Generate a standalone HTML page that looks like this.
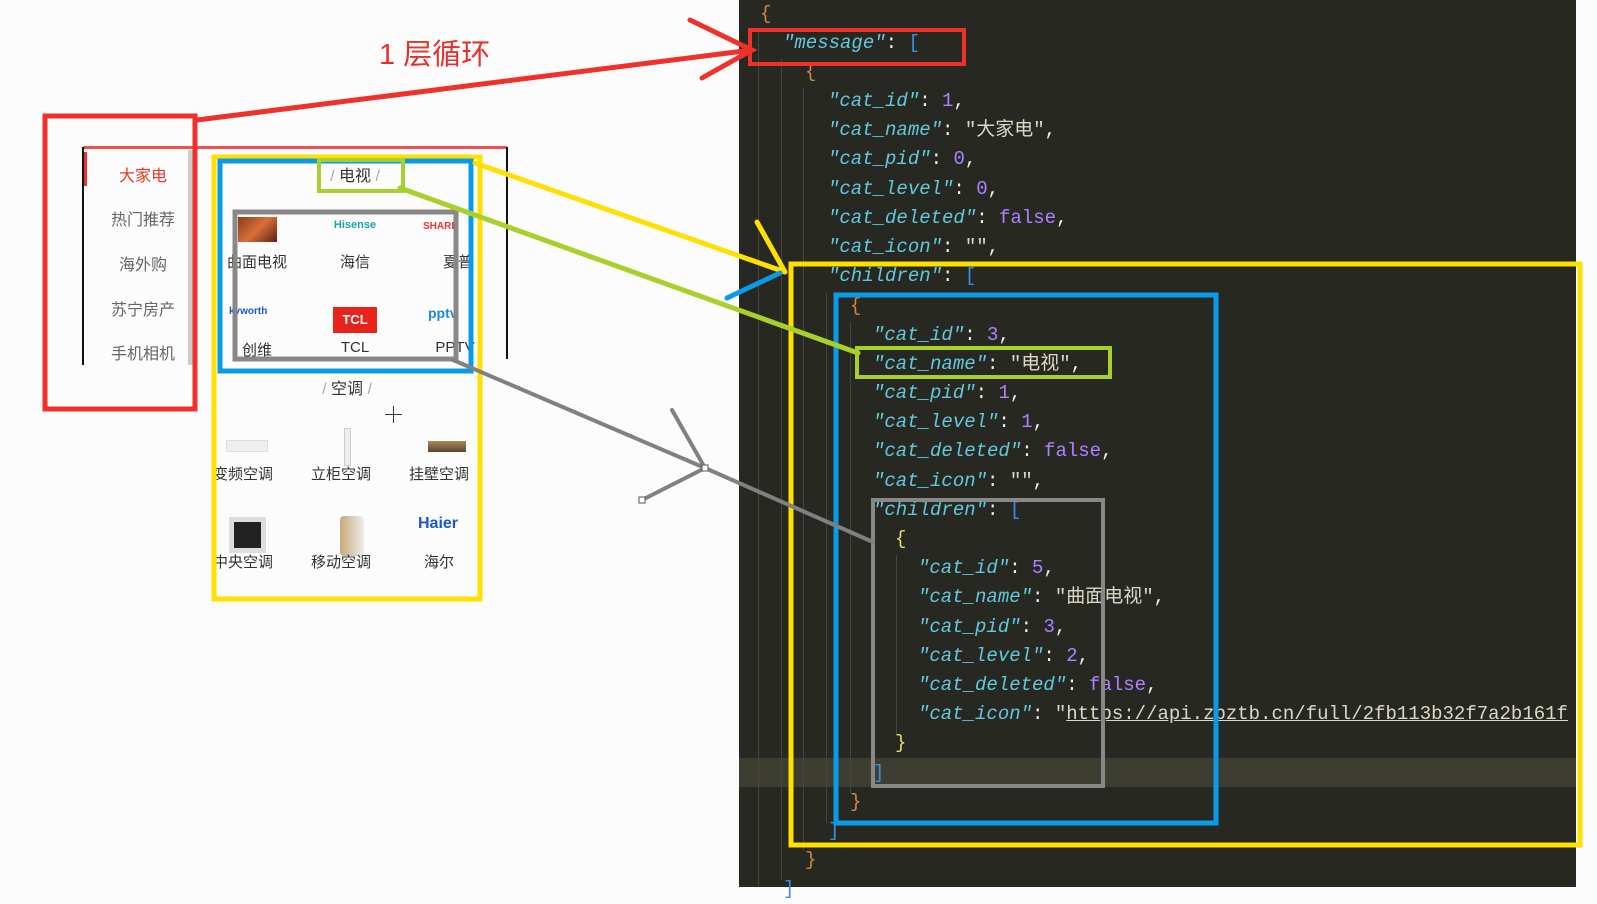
<!DOCTYPE html>
<html><head><meta charset="utf-8"><style>
*{margin:0;padding:0;box-sizing:border-box}
body{width:1597px;height:891px;overflow:hidden;background:#fcfcfc;position:relative;font-family:"Liberation Sans","Noto Sans CJK SC",sans-serif}
.a{position:absolute}
#code{position:absolute;left:739px;top:0;width:837px;height:887px;background:#272822;overflow:hidden}
.ln{position:absolute;height:29.2px;line-height:29.2px;font-family:"Liberation Mono","Noto Sans CJK SC",monospace;font-size:19px;color:#f0f0ea;white-space:pre}
.k{color:#62c8dc;font-style:italic}
.n{color:#ae81ff}
.s{color:#dcd8c8}
.o{color:#d28a3c}
.b{color:#3a8ee6}
.mi{position:absolute;width:110px;text-align:center;font-size:16px;color:#666}
.lb{position:absolute;width:96px;text-align:center;font-size:15px;color:#333}
</style></head><body>

<!-- left phone -->
<div class="a" style="left:83px;top:146px;width:424px;height:3px;background:#f05050"></div>
<div class="a" style="left:82px;top:147px;width:2px;height:218px;background:#111"></div>
<div class="a" style="left:506px;top:147px;width:2px;height:212px;background:#111"></div>
<div class="a" style="left:84px;top:152px;width:3px;height:34px;background:#e33"></div>
<div class="a" style="left:188px;top:150px;width:6px;height:215px;background:#ccc"></div>
<div class="mi" style="left:88px;top:162px;color:#e83828">大家电</div>
<div class="mi" style="left:88px;top:206px">热门推荐</div>
<div class="mi" style="left:88px;top:251px">海外购</div>
<div class="mi" style="left:88px;top:296px">苏宁房产</div>
<div class="mi" style="left:88px;top:340px">手机相机</div>

<div class="a" style="left:305px;top:162px;width:100px;text-align:center;font-size:16px;color:#333"><span style="color:#aaa">/ </span>电视<span style="color:#aaa"> /</span></div>
<div class="a" style="left:238px;top:217px;width:39px;height:25px;background:linear-gradient(135deg,#8a3a18,#d8703a,#5a2010)"></div>
<div class="a" style="left:320px;top:219px;width:70px;text-align:center;font-size:11px;font-weight:bold;color:#1aa3b0">Hisense</div>
<div class="a" style="left:423px;top:221px;width:40px;font-size:10px;font-weight:bold;color:#e33">SHARP</div>
<div class="lb" style="left:209px;top:251px">曲面电视</div>
<div class="lb" style="left:307px;top:251px">海信</div>
<div class="lb" style="left:410px;top:251px">夏普</div>
<div class="a" style="left:229px;top:306px;width:50px;font-size:10px;font-weight:bold;color:#1a5ac8">kyworth</div>
<div class="a" style="left:333px;top:307px;width:44px;height:26px;background:#e8231b;color:#fff;font-weight:bold;font-size:13px;text-align:center;line-height:26px">TCL</div>
<div class="a" style="left:428px;top:305px;font-size:14px;font-weight:bold;color:#1e88e5">pptv</div>
<div class="lb" style="left:209px;top:339px">创维</div>
<div class="lb" style="left:307px;top:339px">TCL</div>
<div class="lb" style="left:407px;top:339px">PPTV</div>

<div class="a" style="left:297px;top:375px;width:100px;text-align:center;font-size:16px;color:#333"><span style="color:#aaa">/ </span>空调<span style="color:#aaa"> /</span></div>
<div class="a" style="left:385px;top:414px;width:17px;height:1px;background:#333"></div>
<div class="a" style="left:393px;top:406px;width:1px;height:17px;background:#333"></div>

<div class="a" style="left:226px;top:440px;width:42px;height:12px;background:#eee;border:1px solid #ddd"></div>
<div class="a" style="left:344px;top:428px;width:7px;height:38px;background:#eee;border:1px solid #ccc"></div>
<div class="a" style="left:428px;top:441px;width:38px;height:11px;background:linear-gradient(#a88a5a,#5a4630)"></div>
<div class="lb" style="left:195px;top:463px">变频空调</div>
<div class="lb" style="left:293px;top:463px">立柜空调</div>
<div class="lb" style="left:391px;top:463px">挂壁空调</div>
<div class="a" style="left:229px;top:517px;width:37px;height:36px;background:#ddd;padding:5px"><div style="width:100%;height:100%;background:#222"></div></div>
<div class="a" style="left:340px;top:516px;width:24px;height:40px;background:linear-gradient(90deg,#c8a878,#eee);border-radius:4px"></div>
<div class="a" style="left:410px;top:515px;width:56px;text-align:center;font-size:16px;font-weight:bold;color:#1a5ac8">Haier</div>
<div class="lb" style="left:195px;top:551px">中央空调</div>
<div class="lb" style="left:293px;top:551px">移动空调</div>
<div class="lb" style="left:391px;top:551px">海尔</div>

<div class="a" style="left:379px;top:31px;font-size:29px;color:#e8302a">1 层循环</div>

<!-- code -->
<div id="code">
<div class="a" style="left:0;top:758px;width:837px;height:29px;background:#3e3d32"></div>
<div class="a" style="left:19px;top:30px;width:1px;height:857px;background:#464640"></div>
<div class="a" style="left:42px;top:59px;width:1px;height:821px;background:#464640"></div>
<div class="a" style="left:64px;top:88px;width:1px;height:763px;background:#464640"></div>
<div class="a" style="left:87px;top:293px;width:1px;height:530px;background:#464640"></div>
<div class="a" style="left:111px;top:322px;width:1px;height:471px;background:#464640"></div>
<div class="a" style="left:133px;top:526px;width:1px;height:238px;background:#464640"></div>
<div class="a" style="left:157px;top:555px;width:1px;height:180px;background:#464640"></div>
</div>
<div class="ln" style="left:760px;top:0px"><span class="o">{</span></div>
<div class="ln" style="left:783px;top:29px"><span class="k">"message"</span>: <span class="b">[</span></div>
<div class="ln" style="left:805px;top:58px"><span class="o">{</span></div>
<div class="ln" style="left:828px;top:87px"><span class="k">"cat_id"</span>: <span class="n">1</span>,</div>
<div class="ln" style="left:828px;top:116px"><span class="k">"cat_name"</span>: <span class="s">"大家电"</span>,</div>
<div class="ln" style="left:828px;top:145px"><span class="k">"cat_pid"</span>: <span class="n">0</span>,</div>
<div class="ln" style="left:828px;top:175px"><span class="k">"cat_level"</span>: <span class="n">0</span>,</div>
<div class="ln" style="left:828px;top:204px"><span class="k">"cat_deleted"</span>: <span class="n">false</span>,</div>
<div class="ln" style="left:828px;top:233px"><span class="k">"cat_icon"</span>: <span class="s">""</span>,</div>
<div class="ln" style="left:828px;top:262px"><span class="k">"children"</span>: <span class="b">[</span></div>
<div class="ln" style="left:850px;top:292px"><span class="o">{</span></div>
<div class="ln" style="left:873px;top:321px"><span class="k">"cat_id"</span>: <span class="n">3</span>,</div>
<div class="ln" style="left:873px;top:350px"><span class="k">"cat_name"</span>: <span class="s">"电视"</span>,</div>
<div class="ln" style="left:873px;top:379px"><span class="k">"cat_pid"</span>: <span class="n">1</span>,</div>
<div class="ln" style="left:873px;top:408px"><span class="k">"cat_level"</span>: <span class="n">1</span>,</div>
<div class="ln" style="left:873px;top:437px"><span class="k">"cat_deleted"</span>: <span class="n">false</span>,</div>
<div class="ln" style="left:873px;top:467px"><span class="k">"cat_icon"</span>: <span class="s">""</span>,</div>
<div class="ln" style="left:873px;top:496px"><span class="k">"children"</span>: <span class="b">[</span></div>
<div class="ln" style="left:895px;top:525px"><span style="color:#e6db74">{</span></div>
<div class="ln" style="left:918px;top:554px"><span class="k">"cat_id"</span>: <span class="n">5</span>,</div>
<div class="ln" style="left:918px;top:583px"><span class="k">"cat_name"</span>: <span class="s">"曲面电视"</span>,</div>
<div class="ln" style="left:918px;top:613px"><span class="k">"cat_pid"</span>: <span class="n">3</span>,</div>
<div class="ln" style="left:918px;top:642px"><span class="k">"cat_level"</span>: <span class="n">2</span>,</div>
<div class="ln" style="left:918px;top:671px"><span class="k">"cat_deleted"</span>: <span class="n">false</span>,</div>
<div class="ln" style="left:918px;top:700px"><span class="k">"cat_icon"</span>: <span class="s">"<u>https://api.zbztb.cn/full/2fb113b32f7a2b161f</u></span></div>
<div class="ln" style="left:895px;top:729px"><span style="color:#e6db74">}</span></div>
<div class="ln" style="left:873px;top:759px"><span class="b">]</span></div>
<div class="ln" style="left:850px;top:788px"><span class="o">}</span></div>
<div class="ln" style="left:828px;top:817px"><span class="b">]</span></div>
<div class="ln" style="left:805px;top:846px"><span class="o">}</span></div>
<div class="ln" style="left:783px;top:875px"><span class="b">]</span></div>
<div class="a" style="left:1576px;top:0;width:21px;height:891px;background:#fcfcfc"></div>

<svg class="a" style="left:0;top:0" width="1597" height="891" viewBox="0 0 1597 891">
<g fill="none" stroke-linecap="round">
<rect x="45" y="116" width="150" height="293" stroke="#f0302a" stroke-width="5"/>
<rect x="750" y="30" width="214" height="34" stroke="#f0302a" stroke-width="4"/>
<rect x="214" y="157" width="266" height="442" stroke="#ffe000" stroke-width="5"/>
<rect x="220" y="161" width="251" height="210" stroke="#0a9be8" stroke-width="5"/>
<rect x="319" y="160" width="84" height="31" stroke="#a8d02a" stroke-width="4"/>
<rect x="235" y="212" width="221" height="147" stroke="#888" stroke-width="5"/>
<rect x="791" y="264" width="789" height="581" stroke="#ffe000" stroke-width="5"/>
<rect x="836" y="295" width="380" height="528" stroke="#0a9be8" stroke-width="5"/>
<rect x="857" y="348" width="253" height="29" stroke="#a8d02a" stroke-width="4"/>
<rect x="873" y="500" width="230" height="286" stroke="#888" stroke-width="4"/>
<path d="M197 120 L752 50 M690 20 L752 50 L702 78" stroke="#f0302a" stroke-width="5"/>
<path d="M475 163 L785 272 M757 222 L785 272" stroke="#ffe000" stroke-width="5"/>
<path d="M727 298 L780 273" stroke="#0a9be8" stroke-width="5"/>
<path d="M400 188 L858 353" stroke="#a8d02a" stroke-width="5"/>
<path d="M453 360 L705 468 L873 542 M672 410 L705 468 L642 500" stroke="#808080" stroke-width="4"/>
</g>
<rect x="702" y="465" width="6" height="6" fill="#fff" stroke="#555"/>
<rect x="639" y="497" width="6" height="6" fill="#fff" stroke="#555"/>
</svg>
</body></html>
